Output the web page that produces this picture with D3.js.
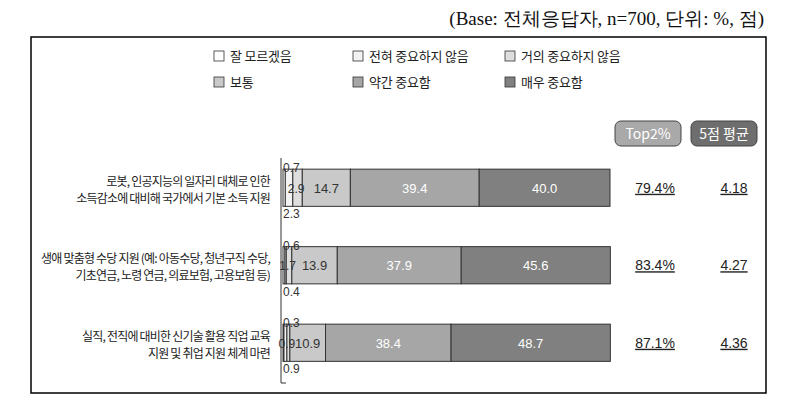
<!DOCTYPE html>
<html>
<head>
<meta charset="utf-8">
<script src="https://cdn.jsdelivr.net/npm/d3@7"></script>
<style>
  body { margin: 0; background: #fff; }
  text { font-family: "Noto Sans CJK KR", "Noto Sans", sans-serif; }
</style>
</head>
<body>
<svg id="chart" width="786" height="416"></svg>
<script>
// Data
const categories = ["잘 모르겠음", "전혀 중요하지 않음", "거의 중요하지 않음", "보통", "약간 중요함", "매우 중요함"];
const items = [
  ["로봇, 인공지능의 일자리 대체로 인한", "소득감소에 대비해 국가에서 기본 소득 지원"],
  ["생애 맞춤형 수당 지원 (예: 아동수당, 청년구직 수당,", "기초연금, 노령 연금, 의료보험, 고용보험 등)"],
  ["실직, 전직에 대비한 신기술 활용 직업 교육", "지원 및 취업 지원 체계 마련"]
];
const values = [
  [0.7, 2.3, 2.9, 14.7, 39.4, 40.0],
  [0.6, 0.4, 1.7, 13.9, 37.9, 45.6],
  [0.3, 0.9, 0.9, 10.9, 38.4, 48.7]
];
const top2 = ["79.4%", "83.4%", "87.1%"];
const mean5 = ["4.18", "4.27", "4.36"];
const colors = ["#ffffff", "#f2f2f2", "#dedede", "#c9c9c9", "#a6a6a6", "#808080"];

const svg = d3.select("#chart");

// outer frame + base note
svg.append("rect")
  .attr("x", 31).attr("y", 37).attr("width", 735).attr("height", 356)
  .attr("fill", "none").attr("stroke", "#000").attr("stroke-width", 1.5);

svg.append("text")
  .attr("x", 764).attr("y", 25)
  .attr("text-anchor", "end")
  .style("font-family", "'Liberation Serif', 'DejaVu Serif', serif")
  .style("font-size", "19px")
  .attr("fill", "#111")
  .text("(Base: 전체응답자, n=700, 단위: %, 점)");

// legend, 3 columns x 2 rows
const legX = [214, 353, 505];
const legY = [56, 82];
const leg = svg.append("g").selectAll("g")
  .data(categories)
  .join("g")
  .attr("transform", (d, i) => `translate(${legX[i % 3]},${legY[Math.floor(i / 3)]})`);
leg.append("rect")
  .attr("x", 0).attr("y", -5).attr("width", 10).attr("height", 10)
  .attr("fill", (d, i) => colors[i]).attr("stroke", "#333").attr("stroke-width", 0.8);
leg.append("text")
  .attr("x", 16).attr("y", 0).attr("dy", "0.36em")
  .style("font-size", "13px").style("letter-spacing", "-0.2px")
  .attr("fill", "#222")
  .text(d => d);

// scales
const x = d3.scaleLinear().domain([0, 100]).range([283, 610]);
const y = d3.scaleBand().domain(d3.range(items.length)).range([149, 381.5])
  .paddingInner(0.52).paddingOuter(0.26);

// stacked segments
const rows = values.map((vals, r) => {
  let acc = 0;
  return vals.map((v, c) => {
    const s = { row: r, col: c, v: v, x0: acc, x1: acc + v };
    acc += v;
    return s;
  });
});

const bars = svg.append("g").selectAll("g").data(rows).join("g");
bars.selectAll("rect")
  .data(d => d)
  .join("rect")
  .attr("x", d => x(d.x0))
  .attr("y", d => y(d.row))
  .attr("width", d => x(d.x1) - x(d.x0))
  .attr("height", y.bandwidth())
  .attr("fill", d => colors[d.col])
  .attr("stroke", "#333")
  .attr("stroke-width", 1);

// segment labels (the tiny 거의 segment label sits a bit left so it doesn't run into the next one)
bars.selectAll("text")
  .data(d => d)
  .join("text")
  .attr("x", d => {
    if (d.col < 2) return x(0);
    const mid = (x(d.x0) + x(d.x1)) / 2;
    return d.col === 2 ? mid - 1.5 : mid;
  })
  .attr("y", d => {
    if (d.col === 0) return y(d.row) + 3;
    if (d.col === 1) return y(d.row) + y.bandwidth() + 12;
    return y(d.row) + y.bandwidth() / 2 + 5;
  })
  .attr("text-anchor", d => d.col < 2 ? "start" : "middle")
  .style("font-family", "'Liberation Sans', Arial, sans-serif")
  .style("font-size", d => d.col < 3 ? "12px" : "13px")
  .attr("fill", d => d.col >= 4 ? "#fff" : "#333")
  .text(d => d.v.toFixed(1));

// category axis line
svg.append("path")
  .attr("d", `M281,158V383H286`)
  .attr("fill", "none").attr("stroke", "#333").attr("stroke-width", 1);

// category labels
const lab = svg.append("g").selectAll("text").data(items).join("text")
  .attr("text-anchor", "end")
  .style("font-size", "12px").style("letter-spacing", "-0.8px")
  .attr("fill", "#222");
lab.selectAll("tspan").data((d, i) => d.map(t => ({ t, i })))
  .join("tspan")
  .attr("x", 270)
  .attr("y", (d, k) => y(d.i) + y.bandwidth() / 2 - 2 + k * 17)
  .text(d => d.t);

// header pills
const heads = [
  { label: "Top2%", cx: 648, fill: "#a9a9a9" },
  { label: "5점 평균", cx: 724, fill: "#6e6e6e" }
];
const hg = svg.append("g").selectAll("g").data(heads).join("g");
hg.append("rect")
  .attr("x", d => d.cx - 33).attr("y", 121).attr("width", 66).attr("height", 25)
  .attr("rx", 6).attr("fill", d => d.fill).attr("stroke", "#444").attr("stroke-width", 1);
hg.append("text")
  .attr("x", d => d.cx).attr("y", 138.5)
  .attr("text-anchor", "middle")
  .style("font-size", "14px")
  .attr("fill", "#fff")
  .text(d => d.label);

// right-hand numbers
const cols = [{ vals: top2, cx: 655 }, { vals: mean5, cx: 734 }];
cols.forEach(col => {
  svg.append("g").selectAll("text").data(col.vals).join("text")
    .attr("x", col.cx)
    .attr("y", (d, i) => y(i) + y.bandwidth() / 2 + 5)
    .attr("text-anchor", "middle")
    .style("font-family", "'Liberation Sans', Arial, sans-serif")
    .style("font-size", "14px")
    .style("text-decoration", "underline")
    .attr("fill", "#222")
    .text(d => d);
});
</script>
</body>
</html>
